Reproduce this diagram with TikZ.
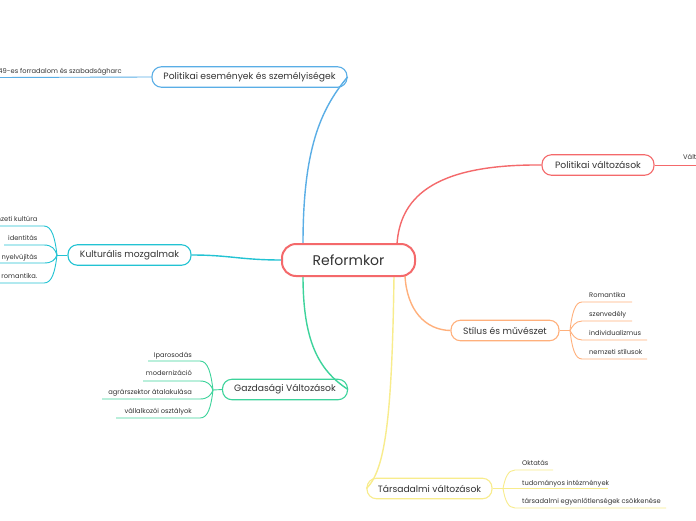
\documentclass[tikz,border=0pt]{standalone}
\usepackage{fontspec}
\setmainfont{Poppins}
\definecolor{cred}{HTML}{F4696B}
\definecolor{cblue}{HTML}{5AAEE6}
\definecolor{ccyan}{HTML}{22C3D3}
\definecolor{cgreen}{HTML}{3CD39B}
\definecolor{corange}{HTML}{FFB07C}
\definecolor{cyellow}{HTML}{F8EC8C}
\definecolor{ctext}{HTML}{333333}
\tikzset{
  root/.style={draw=cred, line width=2pt, fill=white, rounded corners=14pt, minimum height=32pt, text=ctext, font=\fontsize{14}{16}\selectfont, inner sep=0pt},
  topic/.style={draw, line width=1.1pt, fill=white, rounded corners=9.5pt, minimum height=20.5pt, text=ctext, font=\fontsize{9.2}{11}\selectfont, inner sep=0pt},
  main/.style={line width=1.4pt},
  sub/.style={line width=0.9pt},
  leaf/.style={text=ctext, font=\fontsize{6.7}{8}\selectfont, inner sep=0pt},
}
\begin{document}
\begin{tikzpicture}[x=1pt,y=-1pt]
\useasboundingbox (0,0) rectangle (696,520);
\clip (0,0) rectangle (696,520);
\fill[white] (0,0) rectangle (696,520);

\coordinate (rt1) at (303,244);
\coordinate (rb1) at (303,276);
\coordinate (rt2) at (397,244);
\coordinate (rb2) at (405,276);
\coordinate (rb3) at (394,276);
\coordinate (rl) at (282,260);

\node[topic, draw=cblue, minimum width=195pt] (pe) at (249.5,77) {Politikai események és személyiségek};
\node[topic, draw=ccyan, minimum width=123pt] (ku) at (129.5,255) {Kulturális mozgalmak};
\node[topic, draw=cgreen, minimum width=125pt] (ga) at (285,389.5) {Gazdasági Változások};
\node[topic, draw=cred, minimum width=112pt] (pv) at (598,165) {Politikai változások};
\node[topic, draw=corange, minimum width=108pt] (st) at (505,330.5) {Stílus és művészet};
\node[topic, draw=cyellow, minimum width=125pt] (ta) at (429.5,488.5) {Társadalmi változások};

\draw[main, cblue] (rt1) .. controls (303,150) and (320,110) .. (pe.east);
\draw[main, cgreen] (rb1) .. controls (303,340) and (318,370) .. (ga.east);
\draw[main, cred] (rt2) .. controls (400,200) and (430,164) .. (pv.west);
\draw[main, corange] (rb2) .. controls (407,310) and (425,330) .. (st.west);
\draw[main, cyellow] (rb3) .. controls (392,420) and (385,470) .. (ta.west);
\draw[main, ccyan] (rl) .. controls (240,260) and (230,255) .. (ku.east);

\node[root, minimum width=133pt] (root) at (348.5,260) {Reformkor};

% Politikai események
\coordinate (peE) at (-5,77.5);
\draw[sub, cblue] (pe.west) -- (peE);
\node[leaf, anchor=base east] (pe1) at (122,73) {1848-49-es forradalom és szabadságharc};

% Politikai változások
\coordinate (pvE) at (700,165);
\draw[sub, cred] (pv.east) -- (pvE);
\node[leaf, anchor=base west] (pv1) at (683,159) {Változások};

% Kulturális mozgalmak
\coordinate (J1) at (57,255);
\draw[sub, ccyan] (ku.west) -- (J1);
\coordinate (k1a) at (44,226); \coordinate (k1b) at (-5,226);
\coordinate (k2a) at (44,245); \coordinate (k2b) at (4,245);
\coordinate (k3a) at (44,263); \coordinate (k3b) at (-5,263);
\coordinate (k4a) at (44,283); \coordinate (k4b) at (-5,283);
\draw[sub, ccyan] (J1) .. controls (55,238) and (52,226) .. (k1a) -- (k1b);
\draw[sub, ccyan] (J1) .. controls (55,249) and (52,245) .. (k2a) -- (k2b);
\draw[sub, ccyan] (J1) .. controls (55,260) and (52,263) .. (k3a) -- (k3b);
\draw[sub, ccyan] (J1) .. controls (55,272) and (52,283) .. (k4a) -- (k4b);
\node[leaf, anchor=base east] (k1) at (37.5,221.5) {nemzeti kultúra};
\node[leaf, anchor=base east] (k2) at (37.5,240.5) {identitás};
\node[leaf, anchor=base east] (k3) at (37.5,259) {nyelvújítás};
\node[leaf, anchor=base east] (k4) at (37.5,278.5) {romantika.};

% Gazdasági Változások
\coordinate (J2) at (213,390);
\draw[sub, cgreen] (ga.west) -- (J2);
\coordinate (g1a) at (200,361); \coordinate (g1b) at (148,361);
\coordinate (g2a) at (200,381); \coordinate (g2b) at (143,381);
\coordinate (g3a) at (200,399); \coordinate (g3b) at (102,399);
\coordinate (g4a) at (200,418); \coordinate (g4b) at (116,418);
\draw[sub, cgreen] (J2) .. controls (211,373) and (208,361) .. (g1a) -- (g1b);
\draw[sub, cgreen] (J2) .. controls (211,385) and (208,381) .. (g2a) -- (g2b);
\draw[sub, cgreen] (J2) .. controls (211,395) and (208,399) .. (g3a) -- (g3b);
\draw[sub, cgreen] (J2) .. controls (211,407) and (208,418) .. (g4a) -- (g4b);
\node[leaf, anchor=base east] (g1) at (192,357) {Iparosodás};
\node[leaf, anchor=base east] (g2) at (192,375.5) {modernizáció};
\node[leaf, anchor=base east] (g3) at (192,394.5) {agrárszektor átalakulása};
\node[leaf, anchor=base east] (g4) at (192,413.5) {vállalkozói osztályok};

% Stílus és művészet
\coordinate (J3) at (570,330.5);
\draw[sub, corange] (st.east) -- (J3);
\coordinate (s1a) at (582,302); \coordinate (s1b) at (632,302);
\coordinate (s2a) at (582,321); \coordinate (s2b) at (632,321);
\coordinate (s3a) at (582,340); \coordinate (s3b) at (647,340);
\coordinate (s4a) at (582,359); \coordinate (s4b) at (647,359);
\draw[sub, corange] (J3) .. controls (572,313) and (575,302) .. (s1a) -- (s1b);
\draw[sub, corange] (J3) .. controls (572,327) and (575,321) .. (s2a) -- (s2b);
\draw[sub, corange] (J3) .. controls (572,334) and (575,340) .. (s3a) -- (s3b);
\draw[sub, corange] (J3) .. controls (572,348) and (575,359) .. (s4a) -- (s4b);
\node[leaf, anchor=base west] (s1) at (589,297.5) {Romantika};
\node[leaf, anchor=base west] (s2) at (589,316) {szenvedély};
\node[leaf, anchor=base west] (s3) at (589,335) {individualizmus};
\node[leaf, anchor=base west] (s4) at (589,354) {nemzeti stílusok};

% Társadalmi változások
\coordinate (J4) at (503,488.5);
\draw[sub, cyellow] (ta.east) -- (J4);
\coordinate (t1a) at (515,470); \coordinate (t1b) at (553,470);
\coordinate (t2b) at (608,488.5);
\coordinate (t3a) at (515,508); \coordinate (t3b) at (666,508);
\draw[sub, cyellow] (J4) .. controls (505,478) and (508,470) .. (t1a) -- (t1b);
\draw[sub, cyellow] (J4) -- (t2b);
\draw[sub, cyellow] (J4) .. controls (505,500) and (508,508) .. (t3a) -- (t3b);
\node[leaf, anchor=base west] (t1) at (522,465.5) {Oktatás};
\node[leaf, anchor=base west] (t2) at (522,485) {tudományos intézmények};
\node[leaf, anchor=base west] (t3) at (522,503.5) {társadalmi egyenlőtlenségek csökkenése};
\end{tikzpicture}
\end{document}
